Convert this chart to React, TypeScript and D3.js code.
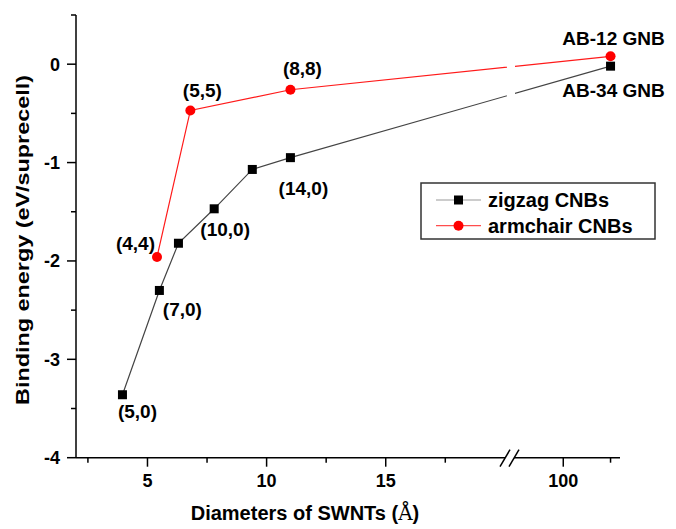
import { useEffect } from 'react'
import * as d3 from 'd3'

// diameters (Å) and binding energies (eV/supercell)
const zigzagLabels = ['(5,0)', '(7,0)', '(8,0)', '(10,0)', '(12,0)', '(14,0)', 'AB-34 GNB']
const zigzagD = [3.95, 5.5, 6.3, 7.8, 9.4, 11.0, 110]
const zigzagE = [-3.36, -2.3, -1.82, -1.47, -1.07, -0.95, -0.02]

const armchairLabels = ['(4,4)', '(5,5)', '(8,8)', 'AB-12 GNB']
const armchairD = [5.4, 6.8, 11.0, 110]
const armchairE = [-1.96, -0.47, -0.26, 0.08]

const yTicks = [0, -1, -2, -3, -4]
const yMinor = [0.5, -0.5, -1.5, -2.5, -3.5]
const xTicksLeft = [5, 10, 15]
const xMinorLeft = [2.5, 7.5, 12.5, 17.5]
const xTicksRight = [100]
const xMinorRight = [110]

// which points get a text label, and where it sits relative to the marker
const labelOffsets: Record<string, [number, number, string]> = {
  '(5,0)': [15, 23, 'middle'],
  '(7,0)': [23, 26, 'middle'],
  '(10,0)': [11, 27, 'middle'],
  '(14,0)': [13, 37, 'middle'],
  'AB-34 GNB': [3, 31, 'middle'],
  '(4,4)': [-2, -7, 'end'],
  '(5,5)': [12, -13, 'middle'],
  '(8,8)': [12, -15, 'middle'],
  'AB-12 GNB': [3, -11, 'middle'],
}

const W = 676
const H = 529
const font = '"Liberation Sans", Arial, sans-serif'

export default function App() {
  useEffect(() => {
    document.body.style.margin = '0'
  }, [])

  const axisX = 76
  const axisY = 457.7
  const topY = 15
  const breakX = 511
  const endX = 620

  const y = d3.scaleLinear().domain([-4, 0.5]).range([axisY, topY])
  const xl = d3.scaleLinear().domain([2, 20.3]).range([axisX, 512])
  const xr = d3.scaleLinear().domain([90, 112]).range([516, endX])
  const x = (v: number) => (v < 50 ? xl(v) : xr(v))

  const line = d3.line<[number, number]>().x(d => x(d[0])).y(d => y(d[1]))
  const zz = zigzagD.map((d, i) => [d, zigzagE[i]] as [number, number])
  const ac = armchairD.map((d, i) => [d, armchairE[i]] as [number, number])

  const gapL = 507
  const gapR = 515

  const labels = [
    ...zz.map((p, i) => ({ text: zigzagLabels[i], p })),
    ...ac.map((p, i) => ({ text: armchairLabels[i], p })),
  ].filter(l => labelOffsets[l.text])

  return (
    <svg width={W} height={H} style={{ position: 'absolute', left: 0, top: 0, background: '#fff' }} fontFamily={font}>
      <defs>
        <clipPath id="clipL"><rect x={0} y={0} width={gapL} height={H} /></clipPath>
        <clipPath id="clipR"><rect x={gapR} y={0} width={W - gapR} height={H} /></clipPath>
      </defs>

      {/* Y axis */}
      <line x1={axisX} x2={axisX} y1={topY} y2={axisY} stroke="#000" strokeWidth={1.5} />
      {yTicks.map(t => (
        <g key={t}>
          <line x1={axisX - 9} x2={axisX} y1={y(t)} y2={y(t)} stroke="#000" strokeWidth={1.5} />
          <text x={axisX - 16} y={y(t) + 6.5} textAnchor="end" fontSize={18} fontWeight="bold">{t}</text>
        </g>
      ))}
      {yMinor.map(t => (
        <line key={t} x1={axisX - 5} x2={axisX} y1={y(t)} y2={y(t)} stroke="#000" strokeWidth={1.5} />
      ))}
      <text transform="translate(29,240) rotate(-90)" textAnchor="middle" fontSize={19} fontWeight="bold"
        textLength={330} lengthAdjust="spacingAndGlyphs">
        Binding energy (eV/suprecell)
      </text>

      {/* X axis with break */}
      <line x1={axisX} x2={breakX - 6} y1={axisY} y2={axisY} stroke="#000" strokeWidth={1.5} />
      <line x1={breakX + 3} x2={endX} y1={axisY} y2={axisY} stroke="#000" strokeWidth={1.5} />
      <line x1={breakX - 11} y1={axisY + 9} x2={breakX - 1} y2={axisY - 8} stroke="#000" strokeWidth={1.5} />
      <line x1={breakX - 2} y1={axisY + 9} x2={breakX + 8} y2={axisY - 8} stroke="#000" strokeWidth={1.5} />
      {xTicksLeft.map(t => (
        <g key={t}>
          <line x1={xl(t)} x2={xl(t)} y1={axisY} y2={axisY + 9} stroke="#000" strokeWidth={1.5} />
          <text x={xl(t)} y={487} textAnchor="middle" fontSize={18} fontWeight="bold">{t}</text>
        </g>
      ))}
      {xMinorLeft.map(t => (
        <line key={t} x1={xl(t)} x2={xl(t)} y1={axisY} y2={axisY + 5} stroke="#000" strokeWidth={1.5} />
      ))}
      {xTicksRight.map(t => (
        <g key={t}>
          <line x1={xr(t)} x2={xr(t)} y1={axisY} y2={axisY + 9} stroke="#000" strokeWidth={1.5} />
          <text x={xr(t)} y={487} textAnchor="middle" fontSize={18} fontWeight="bold">{t}</text>
        </g>
      ))}
      {xMinorRight.map(t => (
        <line key={t} x1={xr(t)} x2={xr(t)} y1={axisY} y2={axisY + 5} stroke="#000" strokeWidth={1.5} />
      ))}
      <text x={305} y={520} textAnchor="middle" fontSize={20} fontWeight="bold">
        Diameters of SWNTs (<tspan fontFamily='"DejaVu Serif", serif' fontWeight="normal">Å</tspan>)
      </text>

      {/* series lines, interrupted at the axis break */}
      {['clipL', 'clipR'].map(c => (
        <g key={c} clipPath={`url(#${c})`}>
          <path d={line(zz) ?? ''} fill="none" stroke="#444" strokeWidth={1.2} />
          <path d={line(ac) ?? ''} fill="none" stroke="#ff1a1a" strokeWidth={1.2} />
        </g>
      ))}
      {zz.map((p, i) => (
        <rect key={i} x={x(p[0]) - 4.5} y={y(p[1]) - 4.5} width={9} height={9} fill="#000" />
      ))}
      {ac.map((p, i) => (
        <circle key={i} cx={x(p[0])} cy={y(p[1])} r={5} fill="#ff0000" />
      ))}

      {/* point labels */}
      {labels.map(l => {
        const [dx, dy, anchor] = labelOffsets[l.text]
        return (
          <text key={l.text} x={x(l.p[0]) + dx} y={y(l.p[1]) + dy} textAnchor={anchor as any}
            fontSize={19} fontWeight="bold">{l.text}</text>
        )
      })}

      {/* legend */}
      <rect x={421} y={183} width={234} height={56} fill="#fff" stroke="#333" strokeWidth={1.5} />
      <line x1={436} x2={481} y1={200} y2={200} stroke="#999" strokeWidth={1.2} />
      <rect x={454} y={195.5} width={9} height={9} fill="#000" />
      <text x={488} y={207} fontSize={20} fontWeight="bold">zigzag CNBs</text>
      <line x1={436} x2={481} y1={225.7} y2={225.7} stroke="#ff4d4d" strokeWidth={1.2} />
      <circle cx={458.5} cy={225.7} r={5} fill="#ff0000" />
      <text x={488} y={232.7} fontSize={20} fontWeight="bold">armchair CNBs</text>
    </svg>
  )
}
